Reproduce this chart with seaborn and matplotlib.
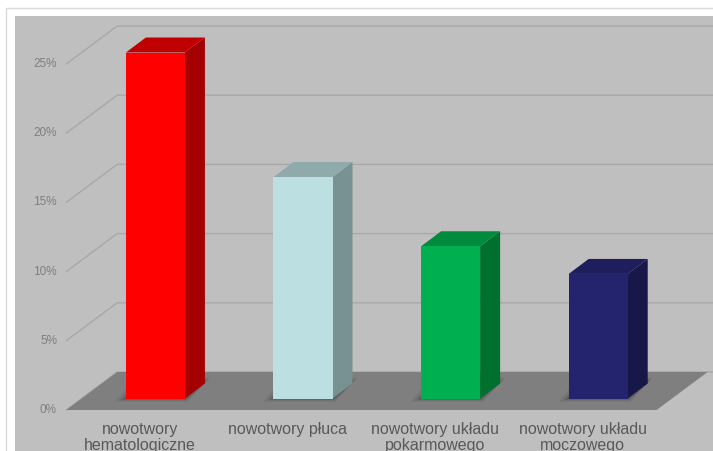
import numpy as np
import pandas as pd
import matplotlib
matplotlib.use("Agg")
import matplotlib.pyplot as plt
import seaborn as sns
from matplotlib.patches import Polygon, Rectangle

# ---- data ----
categories = ["nowotwory\nhematologiczne", "nowotwory płuca",
              "nowotwory układu\npokarmowego", "nowotwory układu\nmoczowego"]
values = [25, 16, 11, 9]
front_colors = ["#ff0000", "#bce0e2", "#00b050", "#24246e"]
side_colors = ["#a40000", "#789191", "#00702e", "#17174a"]
top_colors = ["#c00000", "#8eaaab", "#008c3c", "#1e1e5c"]
tick_values = [0, 5, 10, 15, 20, 25]
tick_labels = ["0%", "5%", "10%", "15%", "20%", "25%"]

# ---- figure / pseudo-3D geometry ----
W, H = 713, 451
sns.set_style("white")
plt.rcParams["font.family"] = ["Liberation Sans", "DejaVu Sans"]
fig = plt.figure(figsize=(W / 100, H / 100), dpi=100)
ax = fig.add_axes([0, 0, 1, 1])

PX_X = 147.6   # pixels per category
PX_Y = 13.84   # pixels per percent
X0 = 155.4     # pixel of first bar centre
Y0 = 398.5     # pixel of bar baseline

def dx(p):
    return p / PX_X

def dy(p):
    return p / PX_Y

BAR_DX, BAR_DY = dx(20), dy(15)       # bar depth
FR_DX, FR_DY = dx(-15.4), dy(-11.5)   # front plane offset
BK_DX, BK_DY = dx(35.6), dy(26.5)     # back wall offset
XMAX = (W - X0) / PX_X

df = pd.DataFrame({"cat": categories, "val": values})
sns.barplot(data=df, x="cat", y="val", hue="cat", palette=front_colors,
            width=0.4, saturation=1, legend=False, ax=ax, linewidth=0,
            zorder=6)
n = len(categories)
bars = sorted([p for p in ax.patches if isinstance(p, Rectangle)],
              key=lambda p: p.get_x())[:n]

ax.set_xlim(-X0 / PX_X, XMAX)
ax.set_ylim((Y0 - H) / PX_Y, Y0 / PX_Y)
ax.axis("off")

# background panel and outer frame
ax.add_patch(Rectangle((15 / W, 0), 1, (H - 16) / H, transform=ax.transAxes,
                       facecolor="#bfbfbf", edgecolor="none", zorder=0))
ax.plot([6 / W, 6 / W, 1], [0, (H - 8) / H, (H - 8) / H], transform=ax.transAxes,
        color="#d9d9d9", lw=1, zorder=0.5)

# gridlines (diagonal on side + horizontal on back wall)
for v in tick_values:
    xs = [-0.5 + FR_DX, -0.5 + BK_DX, XMAX]
    ys = [v + FR_DY, v + BK_DY, v + BK_DY]
    ax.plot(xs, ys, color="#a8a8a8", lw=1, zorder=1)

# floor
floor = [(-0.5 + FR_DX, FR_DY), (n - 0.5 + FR_DX, FR_DY),
         (n - 0.5 + BK_DX, BK_DY), (-0.5 + BK_DX, BK_DY)]
ax.add_patch(Polygon(floor, closed=True, facecolor="#7f7f7f",
                     edgecolor="none", zorder=2))

# bars: shadows, side and top faces
for b, sc, tc in zip(bars, side_colors, top_colors):
    x, w, h = b.get_x(), b.get_width(), b.get_height()
    # soft shadow around base
    for k, a in zip([10, 6, 3], [0.08, 0.10, 0.14]):
        sh = [(x - dx(k), -dy(k * 0.3)), (x + w + dx(k * 0.3), -dy(k * 0.3)),
              (x + w + BAR_DX + dx(k * 0.5), BAR_DY + dy(k * 0.6)),
              (x + BAR_DX - dx(k), BAR_DY + dy(k * 0.6))]
        ax.add_patch(Polygon(sh, closed=True, facecolor="black", alpha=a,
                             edgecolor="none", zorder=3))
    side = [(x + w, 0), (x + w + BAR_DX, BAR_DY),
            (x + w + BAR_DX, h + BAR_DY), (x + w, h)]
    top = [(x, h), (x + w, h), (x + w + BAR_DX, h + BAR_DY), (x + BAR_DX, h + BAR_DY)]
    ax.add_patch(Polygon(side, closed=True, facecolor=sc, edgecolor="none", zorder=5))
    ax.add_patch(Polygon(top, closed=True, facecolor=tc, edgecolor="none", zorder=5))

# tick labels on the front plane
for v, lab in zip(tick_values, tick_labels):
    ax.text((57 - X0) / PX_X, v + FR_DY, lab, ha="right", va="center",
            fontsize=8.5, color="#7f7f7f", zorder=7)

# category labels
for i, cat in enumerate(categories):
    ax.text(i + FR_DX, FR_DY - dy(12), cat, ha="center", va="top",
            fontsize=11.5, color="#595959", linespacing=1.05, zorder=7)

fig.savefig("out.png", dpi=100)
